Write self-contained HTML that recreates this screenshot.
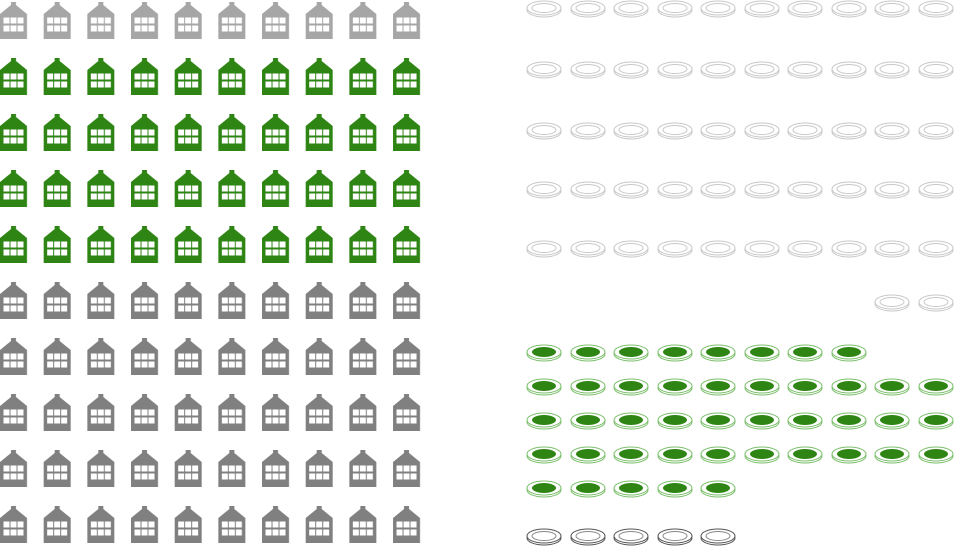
<!DOCTYPE html>
<html><head><meta charset="utf-8"><style>html,body{margin:0;padding:0;background:#fff}svg{display:block}</style></head>
<body>
<svg width="954" height="548" viewBox="0 0 954 548" xmlns="http://www.w3.org/2000/svg" xmlns:xlink="http://www.w3.org/1999/xlink">
<defs>
<g id="h"><path d="M11 0H16V3L27 12V37H0V12L11 3Z"/>
<g fill="#fff"><rect x="3.5" y="15.5" width="6" height="6"/><rect x="10.5" y="15.5" width="6" height="6"/><rect x="17.5" y="15.5" width="6" height="6"/><rect x="3.5" y="23.5" width="6" height="6"/><rect x="10.5" y="23.5" width="6" height="6"/><rect x="17.5" y="23.5" width="6" height="6"/></g></g>
<pattern id="pl" patternUnits="userSpaceOnUse" x="0" y="2" width="43.67" height="56"><use xlink:href="#h" fill="#a6a6a6"/></pattern>
<pattern id="pg" patternUnits="userSpaceOnUse" x="0" y="2" width="43.67" height="56"><use xlink:href="#h" fill="#2e8514"/></pattern>
<pattern id="pd" patternUnits="userSpaceOnUse" x="0" y="2" width="43.67" height="56"><use xlink:href="#h" fill="#808080"/></pattern>
<g id="cl" fill="#fff" stroke="#c8c8c8" stroke-width="1"><ellipse cx="0" cy="2" rx="17" ry="7"/><ellipse cx="0" cy="0" rx="17" ry="7"/><ellipse cx="0" cy="0" rx="12" ry="4.5"/></g>
<g id="cg"><ellipse cx="0" cy="2" rx="17" ry="7" fill="#fff" stroke="#7cbf6c"/><ellipse cx="0" cy="0" rx="17" ry="7" fill="#fff" stroke="#7cbf6c"/><ellipse cx="0" cy="0" rx="12" ry="5" fill="#2e8514"/></g>
<g id="cd" fill="#fff" stroke="#555" stroke-width="1"><ellipse cx="0" cy="2" rx="17" ry="7"/><ellipse cx="0" cy="0" rx="17" ry="7"/><ellipse cx="0" cy="0" rx="12" ry="4.5" stroke="#888"/></g>
<g id="rl5"><use xlink:href="#cl" x="544"/><use xlink:href="#cl" x="588"/><use xlink:href="#cl" x="631"/><use xlink:href="#cl" x="675"/><use xlink:href="#cl" x="718"/></g>
<g id="rl10"><use xlink:href="#rl5"/><use xlink:href="#cl" x="762"/><use xlink:href="#cl" x="805"/><use xlink:href="#cl" x="849"/><use xlink:href="#cl" x="892"/><use xlink:href="#cl" x="936"/></g>
<g id="rg5"><use xlink:href="#cg" x="544"/><use xlink:href="#cg" x="588"/><use xlink:href="#cg" x="631"/><use xlink:href="#cg" x="675"/><use xlink:href="#cg" x="718"/></g>
<g id="rg8"><use xlink:href="#rg5"/><use xlink:href="#cg" x="762"/><use xlink:href="#cg" x="805"/><use xlink:href="#cg" x="849"/></g>
<g id="rg10"><use xlink:href="#rg8"/><use xlink:href="#cg" x="892"/><use xlink:href="#cg" x="936"/></g>
</defs>
<rect x="0" y="0" width="425" height="56" fill="url(#pl)"/>
<rect x="0" y="56" width="425" height="224" fill="url(#pg)"/>
<rect x="0" y="280" width="425" height="268" fill="url(#pd)"/>
<use xlink:href="#rl10" y="8"/>
<use xlink:href="#rl10" y="69"/>
<use xlink:href="#rl10" y="130"/>
<use xlink:href="#rl10" y="189"/>
<use xlink:href="#rl10" y="248"/>
<use xlink:href="#cl" x="892" y="302"/>
<use xlink:href="#cl" x="936" y="302"/>
<use xlink:href="#rg8" y="352"/>
<use xlink:href="#rg10" y="386"/>
<use xlink:href="#rg10" y="420"/>
<use xlink:href="#rg10" y="454"/>
<use xlink:href="#rg5" y="488"/>
<use xlink:href="#cd" x="544" y="536"/>
<use xlink:href="#cd" x="588" y="536"/>
<use xlink:href="#cd" x="631" y="536"/>
<use xlink:href="#cd" x="675" y="536"/>
<use xlink:href="#cd" x="718" y="536"/>
</svg>
</body></html>
